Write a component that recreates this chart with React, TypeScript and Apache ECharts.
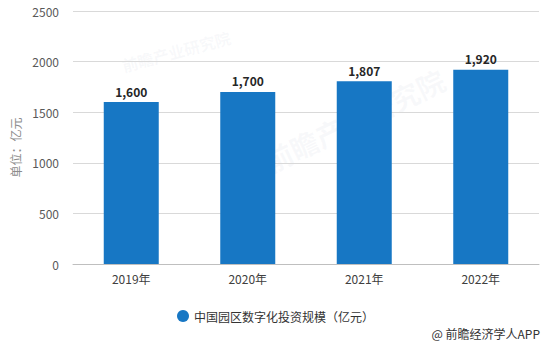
import React, { useEffect, useRef } from "react";
import * as echarts from "echarts";

const categories = ["2019年", "2020年", "2021年", "2022年"];
const values = [1600, 1700, 1807, 1920];
const seriesName = "中国园区数字化投资规模（亿元）";
const yAxisName = "单位：亿元";
const credit = "@ 前瞻经济学人APP";
const watermark = "前瞻产业研究院";

const FONT = "'Noto Sans CJK SC', 'Noto Sans', sans-serif";

export default function App() {
  const ref = useRef<HTMLDivElement>(null);
  useEffect(() => {
    document.body.style.margin = "0";
    if (!ref.current) return;
    const chart = echarts.init(ref.current, undefined, { renderer: "svg" });
    chart.setOption({
      animation: false,
      textStyle: { fontFamily: FONT },
      grid: { left: 73, right: 8, top: 11, bottom: 83 },
      legend: {
        data: [seriesName],
        left: 172,
        top: 305,
        icon: "circle",
        itemWidth: 12,
        itemHeight: 12,
        itemGap: 8,
        textStyle: { fontSize: 12, color: "#333", fontFamily: FONT },
      },
      graphic: [
        {
          type: "text",
          right: 7,
          top: 327,
          style: { text: credit, fontSize: 12, fill: "#333", fontFamily: FONT },
        },
        {
          type: "text",
          x: 120,
          y: 58,
          rotation: Math.PI / 12,
          style: { text: watermark, fontSize: 16, fill: "rgba(180,190,205,0.09)", fontFamily: FONT, fontWeight: "bold" },
          silent: true,
        },
        {
          type: "text",
          x: 260,
          y: 150,
          rotation: Math.PI / 7,
          style: { text: watermark, fontSize: 28, fill: "rgba(180,190,205,0.09)", fontFamily: FONT, fontWeight: "bold" },
          silent: true,
        },
      ],
      xAxis: {
        type: "category",
        data: categories,
        boundaryGap: true,
        axisLine: { lineStyle: { color: "#bfbfbf" } },
        axisTick: { alignWithLabel: true, length: 4, lineStyle: { color: "#bfbfbf" } },
        axisLabel: { color: "#404040", fontSize: 12, margin: 8, fontFamily: FONT },
      },
      yAxis: {
        type: "value",
        min: 0,
        max: 2500,
        interval: 500,
        name: yAxisName,
        nameLocation: "middle",
        nameGap: 52,
        nameTextStyle: { color: "#8c8c8c", fontSize: 12, fontFamily: FONT, padding: [0, 0, 0, -20] },
        axisLine: { show: false },
        axisTick: { show: false },
        axisLabel: { color: "#595959", fontSize: 12, margin: 14, fontFamily: FONT, formatter: (v: number) => String(v) },
        splitLine: { lineStyle: { color: "#d9d9d9" } },
      },
      series: [
        {
          name: seriesName,
          type: "bar",
          data: values,
          barWidth: 55,
          itemStyle: { color: "#1777c4" },
          label: {
            show: true,
            position: "top",
            distance: 5,
            color: "#262626",
            fontSize: 12,
            fontWeight: "bold",
            fontFamily: FONT,
            formatter: (p: any) => Number(p.value).toLocaleString("en-US"),
          },
        },
      ],
    });
    return () => chart.dispose();
  }, []);
  return <div ref={ref} style={{ width: 547, height: 347 }} />;
}
